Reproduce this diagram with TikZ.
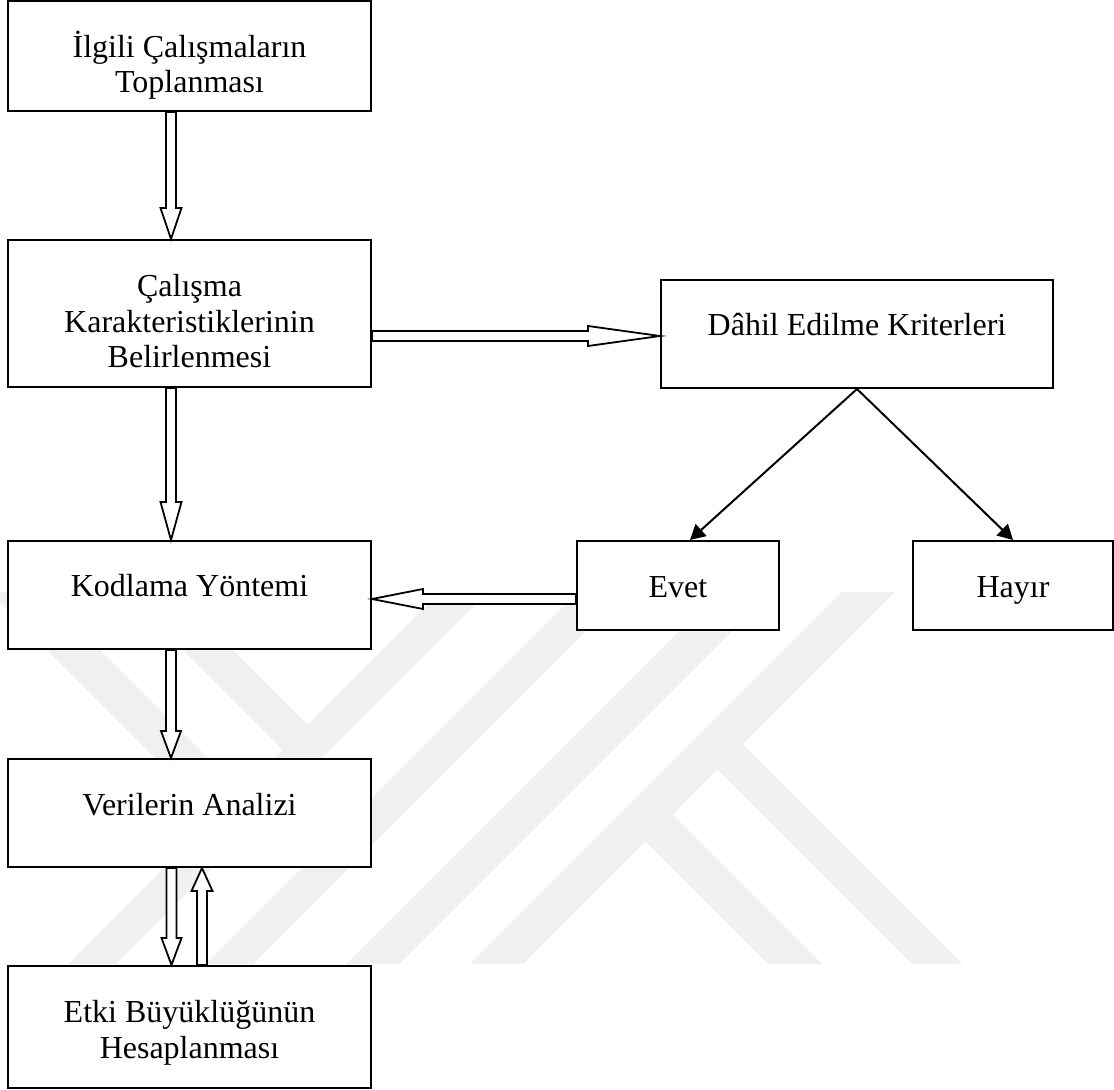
\documentclass[tikz,border=0pt]{standalone}
\usepackage{fontspec}
\setmainfont{Liberation Serif}
\usetikzlibrary{arrows.meta,calc}
\tikzset{
  box/.style={draw, fill=white, line width=1pt, align=center, inner sep=0pt,
    minimum width=181.5pt, minimum height=54pt, text height=11pt, text depth=9pt,
    font=\fontsize{16}{17.75}\selectfont},
  hollow/.style 2 args={draw, fill=white, line width=0.9pt, line join=miter,
    to path={($(\tikztostart)!2.5pt!90:(\tikztotarget)$)
      -- ($(\tikztotarget)!#1!(\tikztostart)!2.5pt!90:(\tikztotarget)$)
      -- ($(\tikztotarget)!#1!(\tikztostart)!#2!90:(\tikztotarget)$)
      -- (\tikztotarget)
      -- ($(\tikztotarget)!#1!(\tikztostart)!#2!-90:(\tikztotarget)$)
      -- ($(\tikztotarget)!#1!(\tikztostart)!2.5pt!-90:(\tikztotarget)$)
      -- ($(\tikztostart)!2.5pt!-90:(\tikztotarget)$) -- cycle}},
  pointer/.style={line width=1pt, -{Triangle[length=7.5pt,width=8pt]}},
  logo/.style={fill=black!6}
}
\begin{document}
\begin{tikzpicture}[x=0.5pt, y=-0.5pt]
  \useasboundingbox (0,0) rectangle (1114,1090);
  \begin{scope}
    \clip (0,593) rectangle (1114,963);
    \fill[logo] (452,580) -- (500,580) -- (100,980) -- (52,980) -- cycle;
    \fill[logo] (113,580) -- (163,580) -- (319.5,736.5) -- (294.5,761.5) -- cycle;
    \fill[logo] (-23,580) -- (30,580) -- (253,803) -- (226.5,829.5) -- cycle;
    \fill[logo] (590,580) -- (637,580) -- (237,980) -- (190,980) -- cycle;
    \fill[logo] (730,580) -- (783,580) -- (383,980) -- (330,980) -- cycle;
    \fill[logo] (854,580) -- (907,580) -- (507,980) -- (454,980) -- cycle;
    \fill[logo] (729,731) -- (978,980) -- (928,980) -- (704,756) -- cycle;
    \fill[logo] (659,801) -- (838,980) -- (784,980) -- (632,828) -- cycle;
  \end{scope}
  \path
    (189.5,56) node[box, text height=46pt] (collect) {İlgili Çalışmaların\\Toplanması}
    (189.5,313.5) node[box, minimum height=73.5pt, text height=63.5pt] (charac) {Çalışma\\Karakteristiklerinin\\Belirlenmesi}
    (857,334) node[box, minimum width=196pt] (criteria) {Dâhil Edilme Kriterleri}
    (189.5,595) node[box] (coding) {Kodlama Yöntemi}
    (678,585.5) node[box, minimum width=101pt, minimum height=44.5pt, text height=12pt, text depth=0pt] (yes) {Evet}
    (1013,585.5) node[box, minimum width=100pt, minimum height=44.5pt, text height=12pt, text depth=0pt] (no) {Hayır}
    (189.5,813) node[box] (analysis) {Verilerin Analizi}
    (189.5,1027) node[box, minimum height=61pt, text height=40pt] (effect) {Etki Büyüklüğünün\\Hesaplanması};
  \begin{scope}
    \draw[hollow={15.5pt}{5.25pt}] ([xshift=-9.25pt]collect.south) to ([xshift=-9.25pt]charac.north);
    \draw[hollow={19pt}{5.25pt}] ([xshift=-9.25pt]charac.south) to ([xshift=-9.25pt]coding.north);
    \draw[hollow={36pt}{5pt}] ([yshift=-11.25pt]charac.east) to ([yshift=-1pt]criteria.west);
    \draw[hollow={25.5pt}{5pt}] ([yshift=-6.75pt]yes.west) to ([yshift=-2pt]coding.east);
    \draw[hollow={13.5pt}{5pt}] ([xshift=-9.25pt]coding.south) to ([xshift=-9.25pt]analysis.north);
    \draw[hollow={13.5pt}{5pt}] ([xshift=-9pt]analysis.south) to ([xshift=-9pt]effect.north);
    \draw[hollow={11.5pt}{5.25pt}] ([xshift=6.25pt]effect.north) to ([xshift=6.25pt]analysis.south);
    \draw[pointer] (criteria.south) -- ([xshift=6pt]yes.north);
    \draw[pointer] (criteria.south) -- (no.north);
  \end{scope}
\end{tikzpicture}
\end{document}
